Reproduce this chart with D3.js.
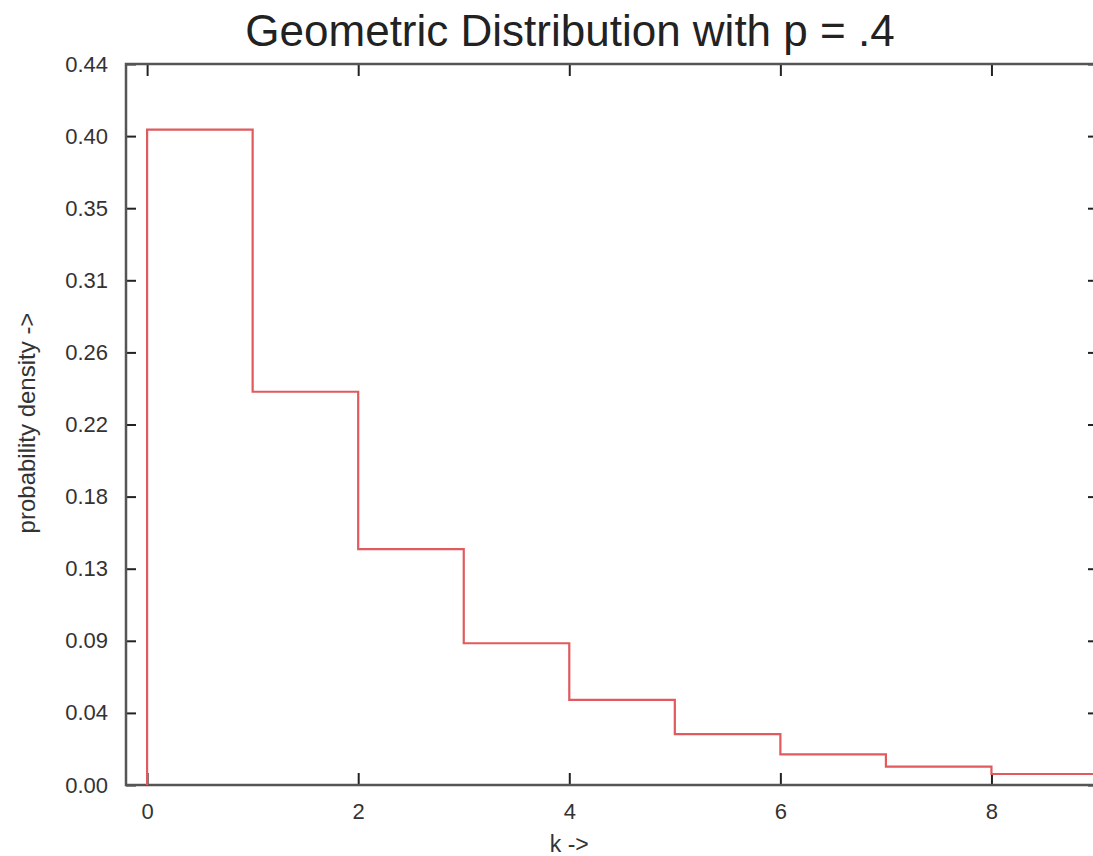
<!DOCTYPE html>
<html lang="en">
<meta charset="utf-8">
<title>Geometric Distribution</title>
<head>
<style>
  body { margin: 0; background: #fff; }
  text { font-family: "Liberation Sans", Arial, sans-serif; }
</style>
</head>
<body>
  <script src="https://d3js.org/d3.v7.min.js"></script>
  <div id="chart"></div>
  <script>

    // data
    var ks = [0, 1, 2, 3, 4, 5, 6, 7, 8, 9];
    var probs = [0.40, 0.24, 0.144, 0.0865, 0.052, 0.031, 0.0187, 0.0112, 0.0067, 0.0067];
    var yTickValues = [0, 0.044, 0.088, 0.132, 0.176, 0.22, 0.264, 0.308, 0.352, 0.396, 0.44];
    var yTickLabels = ["0.00", "0.04", "0.09", "0.13", "0.18", "0.22", "0.26", "0.31", "0.35", "0.40", "0.44"];
    var xTickValues = [0, 2, 4, 6, 8];

    var W = 1093, H = 856;
    var margin = { top: 64, right: -4, bottom: 71, left: 126 },
      width = W - margin.left - margin.right,
      height = H - margin.top - margin.bottom;

    var svg = d3.select("#chart")
      .append("svg")
      .attr("width", W)
      .attr("height", H);

    var g = svg.append("g")
      .attr("transform", "translate(" + margin.left + "," + margin.top + ")");

    var x = d3.scaleLinear().domain([-0.2, 9]).range([0, width]);
    var y = d3.scaleLinear().domain([0, 0.44]).range([height, 0]);

    var axisColor = "#555";

    // ticks (inward, gnuplot style)
    var bottomAxis = g.append("g")
      .attr("transform", "translate(0," + height + ")")
      .call(d3.axisBottom(x).tickValues(xTickValues).tickSizeInner(-12).tickSizeOuter(0).tickPadding(18));
    var topAxis = g.append("g")
      .call(d3.axisTop(x).tickValues(xTickValues).tickSizeInner(-12).tickSizeOuter(0).tickFormat(""));
    var leftAxis = g.append("g")
      .call(d3.axisLeft(y).tickValues(yTickValues).tickSizeInner(-10).tickSizeOuter(0).tickPadding(18)
        .tickFormat((d, i) => yTickLabels[i]));
    var rightAxis = g.append("g")
      .attr("transform", "translate(" + width + ",0)")
      .call(d3.axisRight(y).tickValues(yTickValues).tickSizeInner(-9).tickSizeOuter(0).tickFormat(""));

    [bottomAxis, topAxis, leftAxis, rightAxis].forEach(a => {
      a.select(".domain").remove();
      a.selectAll("line").attr("stroke", "#222").attr("stroke-width", 2);
      a.selectAll("text").attr("fill", "#333").style("font-size", "22px");
    });

    // frame
    g.append("rect")
      .attr("width", width)
      .attr("height", height)
      .attr("fill", "none")
      .attr("stroke", axisColor)
      .attr("stroke-width", 2.5);

    // step line
    g.append("clipPath").attr("id", "clip")
      .append("rect").attr("width", width).attr("height", height);

    var pts = [{ k: ks[0], p: 0 }].concat(ks.map((k, i) => ({ k: k, p: probs[i] })));
    g.append("path")
      .datum(pts)
      .attr("clip-path", "url(#clip)")
      .attr("fill", "none")
      .attr("stroke", "#e05a5e")
      .attr("stroke-width", 2.2)
      .attr("d", d3.line()
        .curve(d3.curveStepAfter)
        .x(d => x(d.k))
        .y(d => y(d.p)));

    // title and axis labels
    svg.append("text")
      .attr("x", 570)
      .attr("y", 46)
      .attr("text-anchor", "middle")
      .attr("fill", "#222")
      .style("font-size", "44px")
      .text("Geometric Distribution with p = .4");

    svg.append("text")
      .attr("x", margin.left + x(4))
      .attr("y", 852)
      .attr("text-anchor", "middle")
      .attr("fill", "#333")
      .style("font-size", "23px")
      .text("k ->");

    svg.append("text")
      .attr("transform", "translate(35," + 423 + ") rotate(-90)")
      .attr("text-anchor", "middle")
      .attr("fill", "#333")
      .style("font-size", "24px")
      .text("probability density ->");

  </script>
</body>
</html>
